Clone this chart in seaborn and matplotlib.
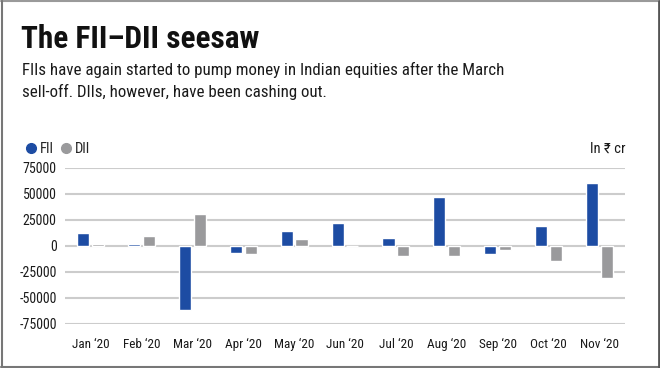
import pandas as pd
import matplotlib
matplotlib.use("Agg")
import matplotlib.pyplot as plt
import seaborn as sns
from matplotlib.lines import Line2D

# ==============================
# Data (Rs crore)
# ==============================

months = ["Jan \u201820", "Feb \u201820", "Mar \u201820", "Apr \u201820", "May \u201820", "Jun \u201820",
          "Jul \u201820", "Aug \u201820", "Sep \u201820", "Oct \u201820", "Nov \u201820"]
fii = [12000, 1800, -62000, -7300, 14400, 21500, 7700, 47100, -8000, 19200, 60600]
dii = [1300, 9600, 30200, -8300, 6400, -500, -9600, -9600, -4200, -14700, -30800]
yticks = [75000, 50000, 25000, 0, -25000, -50000, -75000]

df = pd.DataFrame({
    "month": months * 2,
    "value": fii + dii,
    "investor": ["FII"] * len(months) + ["DII"] * len(months),
})

blue = "#1d4ca3"
grey = "#9a9a9c"
palette = {"FII": blue, "DII": grey}

# ==============================
# Fonts / style
# ==============================

sns.set_style("white")
plt.rcParams["font.family"] = ["Roboto Condensed", "DejaVu Sans"]

fig = plt.figure(figsize=(6.6, 3.68), dpi=100)
ax = fig.add_axes([65 / 660, 44.3 / 368, 560 / 660, 156 / 368])

sns.barplot(
    data=df, x="month", y="value", hue="investor",
    palette=palette, width=0.58, gap=0.18, saturation=1, ax=ax,
    legend=False, zorder=3,
)

ax.set_ylim(-75000, 75000)
ax.set_xlim(-0.5, len(months) - 0.5)
ax.set_yticks(yticks)
ax.set_yticklabels([str(v) for v in yticks])
ax.yaxis.grid(True, color="#cccccc", linewidth=1.5, zorder=0)
ax.set_axisbelow(True)
ax.tick_params(axis="both", length=0, labelsize=10, colors="#1a1a1a")
ax.tick_params(axis="x", pad=10, labelsize=9.5)
ax.tick_params(axis="y", pad=6)
ax.set_xlabel("")
ax.set_ylabel("")
sns.despine(ax=ax, left=True, bottom=True)

# ==============================
# Titles and notes
# ==============================

fig.text(21 / 660, 1 - 47.5 / 368, "The FII\u2013DII seesaw", fontsize=22.5,
         fontweight="bold", color="#111111", ha="left", va="baseline")
fig.text(22 / 660, 1 - 97 / 368,
         "FIIs have again started to pump money in Indian equities after the March\n"
         "sell-off. DIIs, however, have been cashing out.",
         fontsize=12.2, color="#1a1a1a", ha="left", va="baseline", linespacing=1.45)

handles = [
    Line2D([], [], marker="o", linestyle="", markersize=7, color=blue, label="FII"),
    Line2D([], [], marker="o", linestyle="", markersize=7, color=grey, label="DII"),
]
fig.legend(handles=handles, loc="center left", bbox_to_anchor=(22 / 660, 1 - 149 / 368),
           ncol=2, frameon=False, fontsize=10.5, handletextpad=0.05, columnspacing=0.2,
           handlelength=1.2, borderaxespad=0, borderpad=0)

fig.text(625 / 660, 1 - 149 / 368, "In \u20b9 cr", fontsize=10.5, color="#1a1a1a",
         ha="right", va="center")

# ==============================
# Frame
# ==============================

fig.add_artist(Line2D([0.002, 0.998], [0.996, 0.996], transform=fig.transFigure,
                      color="#9a9a9a", linewidth=1.5))
fig.add_artist(Line2D([0.003, 0.003], [0.004, 0.996], transform=fig.transFigure,
                      color="#777777", linewidth=1.5))
fig.add_artist(Line2D([0.002, 0.998], [0.004, 0.004], transform=fig.transFigure,
                      color="#777777", linewidth=1.5))
fig.add_artist(Line2D([658.5 / 660, 658.5 / 660], [0.004, 0.996], transform=fig.transFigure,
                      color="#555555", linewidth=2))

fig.savefig("out.png", dpi=100)
plt.close()
